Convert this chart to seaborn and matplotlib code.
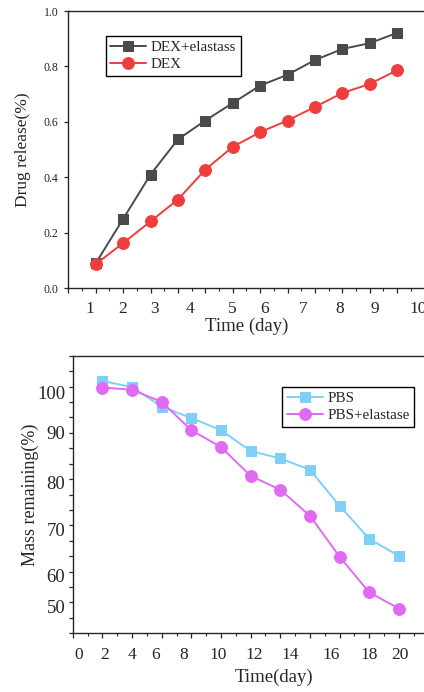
import numpy as np
import pandas as pd
import seaborn as sns
import matplotlib.pyplot as plt
import matplotlib.transforms as mtransforms

# top panel: drug release, points sit on axis positions 1..12
release_pos = [1, 2, 3, 4, 5, 6, 7, 8, 9, 10, 11, 12]
dex_elastass = [0.090, 0.250, 0.410, 0.537, 0.605, 0.668, 0.731, 0.770, 0.823, 0.863, 0.884, 0.921]
dex = [0.087, 0.163, 0.241, 0.320, 0.428, 0.510, 0.563, 0.605, 0.654, 0.704, 0.737, 0.786]
release_ticklabels = ['1', '2', '3', '4', '5', '6', '7', '8', '9', '10']
release_label_pos = [0.79, 2.0, 3.16, 4.44, 6.0, 7.17, 8.56, 9.9, 11.2, 12.75]

# bottom panel: mass remaining, points on axis positions 2..22
mass_pos = [2, 4, 6, 8, 10, 12, 14, 16, 18, 20, 22]
pbs = [103.5, 102.1, 97.6, 95.0, 92.2, 87.4, 85.7, 83.1, 74.8, 67.2, 63.3]
pbs_elastase = [102.0, 101.5, 98.7, 92.2, 88.3, 81.7, 78.5, 72.5, 63.1, 54.9, 51.2]
mass_xticklabels = ['0', '2', '4', '6', '8', '10', '12', '14', '16', '18', '20']
mass_xlabel_pos = [0.40, 2.18, 4.0, 5.62, 7.5, 9.82, 12.22, 14.7, 17.46, 20.0, 22.07]
mass_yticklabels = ['100', '90', '80', '70', '60', '50']
mass_ylabel_pos = [100.3, 91.1, 79.8, 69.0, 58.4, 51.3]

sns.set_style('ticks')
plt.rcParams['font.family'] = ['Liberation Serif', 'DejaVu Serif']
plt.rcParams['axes.linewidth'] = 1.0

W, H = 424, 692
fig = plt.figure(figsize=(W / 100, H / 100), dpi=100)


def px_axes(left, top, right, bottom):
    return fig.add_axes([left / W, 1 - bottom / H, (right - left) / W, (bottom - top) / H])


# ---------- top panel ----------
ax1 = px_axes(68.3, 11, 432.5, 288.3)
df1 = pd.DataFrame({'x': release_pos, 'a': dex_elastass, 'b': dex})
sns.lineplot(data=df1, x='x', y='a', ax=ax1, color='#4a4a4a', marker='s', markersize=7,
             markeredgecolor='#4a4a4a', linewidth=1.4, label='DEX+elastass')
sns.lineplot(data=df1, x='x', y='b', ax=ax1, color='#ee3d3d', marker='o', markersize=8.5,
             markeredgecolor='#ee3d3d', linewidth=1.4, label='DEX')
ax1.set_xlim(0, 364.2 / 27.4)
ax1.set_ylim(0, 1.0)
ax1.set_yticks([0, 0.2, 0.4, 0.6, 0.8, 1.0])
ax1.set_yticklabels(['0.0', '0.2', '0.4', '0.6', '0.8', '1.0'], fontsize=8.5, color='#222222')
ax1.set_xticks(range(0, 14))
ax1.set_xticks(np.arange(0.5, 13.5, 1.0), minor=True)
ax1.set_xticklabels([])
ax1.tick_params(axis='y', length=3, width=0.9, pad=4)
ax1.tick_params(axis='x', which='major', length=3.5, width=0.9)
ax1.tick_params(axis='x', which='minor', length=2, width=0.8)
ax1.spines['right'].set_visible(False)
tr1 = mtransforms.blended_transform_factory(ax1.transData, ax1.transAxes)
for lab, p in zip(release_ticklabels, release_label_pos):
    ax1.text(p, -0.076, lab, transform=tr1, ha='center', va='center', fontsize=12.5, clip_on=False)
ax1.set_xlabel('Time (day)', fontsize=13.5)
ax1.xaxis.label.set_va('center')
ax1.xaxis.set_label_coords(0.49, -0.138)
ax1.set_ylabel('Drug release(%)', fontsize=12.5)
ax1.yaxis.label.set_va('center')
ax1.yaxis.set_label_coords(-0.124, 0.499)
leg1 = ax1.legend(loc='upper left', bbox_to_anchor=(0.1035, 0.91), borderaxespad=0,
                  fontsize=10.8, fancybox=False, framealpha=1, edgecolor='black',
                  handlelength=2.4, handletextpad=0.3, labelspacing=0.25, borderpad=0.3)
leg1.get_frame().set_linewidth(1.0)

# ---------- bottom panel ----------
ax2 = px_axes(72.7, 355.7, 432.5, 633.3)
df2 = pd.DataFrame({'x': mass_pos, 'a': pbs, 'b': pbs_elastase})
sns.lineplot(data=df2, x='x', y='a', ax=ax2, color='#7fcff7', marker='s', markersize=7,
             markeredgecolor='#7fcff7', linewidth=1.4, label='PBS')
sns.lineplot(data=df2, x='x', y='b', ax=ax2, color='#e16af2', marker='o', markersize=8.5,
             markeredgecolor='#e16af2', linewidth=1.4, label='PBS+elastase')
ylo, yhi = 45.51, 109.32
ax2.set_xlim(0, 359.8 / 14.83)
ax2.set_ylim(ylo, yhi)
ax2.set_yticks(np.linspace(ylo, yhi, 19))
ax2.set_yticklabels([])
ax2.set_xticks(range(0, 25, 2))
ax2.set_xticks(range(1, 25, 2), minor=True)
ax2.set_xticklabels([])
ax2.tick_params(axis='y', length=3, width=0.9)
ax2.tick_params(axis='x', which='major', length=3.5, width=0.9)
ax2.tick_params(axis='x', which='minor', length=2, width=0.8)
ax2.spines['right'].set_visible(False)
tr2 = mtransforms.blended_transform_factory(ax2.transData, ax2.transAxes)
for lab, p in zip(mass_xticklabels, mass_xlabel_pos):
    ax2.text(p, -0.078, lab, transform=tr2, ha='center', va='center', fontsize=12.5, clip_on=False)
tr2y = mtransforms.blended_transform_factory(ax2.transAxes, ax2.transData)
for lab, p in zip(mass_yticklabels, mass_ylabel_pos):
    ax2.text(-0.021, p, lab, transform=tr2y, ha='right', va='center', fontsize=13.5, clip_on=False)
ax2.set_xlabel('Time(day)', fontsize=13.5)
ax2.xaxis.label.set_va('center')
ax2.xaxis.set_label_coords(0.56, -0.157)
ax2.set_ylabel('Mass remaining(%)', fontsize=13)
ax2.yaxis.label.set_va('center')
ax2.yaxis.set_label_coords(-0.119, 0.498)
leg2 = ax2.legend(loc='upper left', bbox_to_anchor=(0.582, 0.887), borderaxespad=0,
                  fontsize=10.8, fancybox=False, framealpha=1, edgecolor='black',
                  handlelength=2.4, handletextpad=0.3, labelspacing=0.25, borderpad=0.3)
leg2.get_frame().set_linewidth(1.0)

fig.savefig('out.png', dpi=100)
